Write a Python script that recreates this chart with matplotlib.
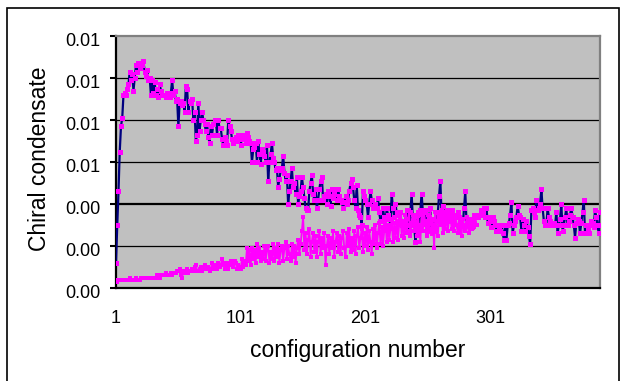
import numpy as np
import matplotlib
matplotlib.use("Agg")
import matplotlib.pyplot as plt
from matplotlib.patches import Rectangle
from matplotlib.transforms import ScaledTranslation

# ---- data (units of 1e-4), one value per configuration ----
s1_raw = [
    12, 30, 46, 65, 77, 81, 92, 93, 92, 95,          # 1-10
    97, 103, 99, 102, 94, 100, 106, 103, 107, 105,   # 11-20
    107, 106, 108, 103, 101, 104, 99, 100, 92, 99,   # 21-30
    93, 98, 92, 95, 91, 97, 94, 92, 92,              # 31-39
    92, 91, 93, 92, 91, 93, 99, 92, 94, 89,          # 40-49
    90, 77, 88, 89, 87, 88, 84, 96, 95, 84,          # 50-59
    89, 88, 90, 80, 84, 70, 73, 88, 75, 80,          # 60-69
    84, 80, 78, 75, 78, 72, 69, 77, 73,              # 70-78
    78, 80, 80, 73, 80, 76, 76, 71, 68, 72,          # 79-88
    70, 68, 80, 77, 75, 71, 69, 70, 72, 70,          # 89-98
    73, 71, 68, 72, 73, 71, 69, 74, 72, 70,          # 99-108
    69, 60, 66, 67, 69, 60, 70, 64, 59, 66,          # 109-118
    65, 63, 60, 68, 51, 60, 64, 69, 62, 60,          # 119-128
    56, 57, 48, 52, 56, 57, 63, 55, 51, 54,          # 129-138
    40, 46, 51, 57, 48, 50, 45, 53, 40, 44,          # 139-148
    46, 53, 48, 43, 38, 37, 37, 46, 50,              # 149-157
    54, 45, 42, 47, 38, 42, 47, 51, 53, 42,          # 158-167
    44, 45, 40, 46, 44, 39, 47, 43, 45, 47,          # 168-177
    42, 47, 44, 42, 41, 38, 41, 44, 40, 42,          # 178-187
    46, 50, 52, 48, 42, 38, 49, 37, 35, 34,          # 188-197
    30, 46, 44, 42, 40, 34, 40, 46, 42, 38,          # 198-207
    39, 40, 38, 43, 36, 32, 32, 38, 34, 30,          # 208-217
    38, 35, 33, 30, 45, 38, 34, 40, 36, 35,          # 218-227
    36, 36, 30, 30, 29, 32, 37,                      # 228-234
    30, 27, 36, 45, 32, 30, 22, 35, 26, 30,          # 235-244
    37, 45, 36, 32, 37, 27, 32, 34, 38, 26,          # 245-254
    33, 30, 27, 32, 36, 44, 51, 35, 39, 36,          # 255-264
    34, 37, 34, 36, 32, 37, 33, 35, 35, 34,          # 265-274
    36, 34, 32, 30, 30, 38, 46, 31, 32, 33,          # 275-284
    31, 29, 32, 35, 34, 35, 34, 35, 35, 37,          # 285-294
    36, 38, 34, 38, 31, 34, 32, 29, 34, 32,          # 295-304
    30, 27, 30, 29, 27, 30, 26, 23,                  # 305-312
    30, 23, 30, 31, 35, 41, 26, 30, 32, 34,          # 313-322
    39, 35, 34, 27, 33, 30, 27, 32, 29, 25,          # 323-332
    21, 37, 38, 36, 34, 42, 37, 38, 40, 47,          # 333-342
    38, 32, 30, 30, 38, 34, 32, 30, 31, 31,          # 343-352
    30, 36, 26, 30, 33, 40, 27, 30, 34, 38,          # 353-362
    30, 32, 35, 38, 34, 30, 24, 31, 33, 32,          # 363-372
    26, 31, 36, 42, 26, 30, 28, 26, 30, 32,          # 373-382
    31, 29, 37, 34, 30, 26, 36,                      # 383-389
]

s2_raw = [
    3, 3, 4, 4, 4, 4, 4, 4, 4, 4,                    # 1-10
    4, 5, 4, 4, 4, 4, 5, 4, 4, 4,                    # 11-20
    5, 5, 5, 5, 5, 5, 5, 5, 5, 5,                    # 21-30
    5, 5, 5, 6, 6, 5, 6, 6, 6, 6,                    # 31-40
    7, 6, 6, 6, 7, 6, 7, 7, 7, 8,                    # 41-50
    8, 9, 6, 5, 8, 7, 8, 9, 7, 8,                    # 51-60
    8, 9, 8, 10, 11, 8, 8, 9, 10, 8,                 # 61-70
    9, 11, 10, 9, 10, 8, 9, 12, 9, 11,               # 71-80
    10, 9, 12, 10, 11, 14, 12, 9, 10, 12,            # 81-90
    9, 11, 13, 11, 10, 13, 12, 9, 11, 10,            # 91-100
    9, 14, 10, 13, 11, 19, 13, 18, 11, 19,           # 101-110
    14, 18, 12, 21, 15, 19, 13, 17, 14, 20,          # 111-120
    13, 18, 20, 12, 17, 14, 21, 13, 19, 15,          # 121-130
    21, 12, 18, 20, 13, 19, 22, 14, 20, 16,          # 131-140
    13, 21, 15, 20, 12, 19, 23, 16, 21, 27,          # 141-150
    34, 18, 26, 16, 23, 28, 15, 22, 26, 17,          # 151-160
    25, 15, 22, 27, 16, 24, 19, 26, 11, 20,          # 161-170
    25, 16, 24, 19, 27, 15, 22, 26, 17, 25,          # 171-180
    16, 24, 27, 19, 15, 26, 20, 28, 17, 24,          # 181-190
    18, 27, 16, 25, 29, 19, 24, 28, 17, 26,          # 191-200
    20, 29, 18, 27, 22, 16, 28, 21, 30, 19,          # 201-210
    26, 31, 21, 29, 20, 27, 32, 22, 30, 23,          # 211-220
    28, 33, 22, 31, 24, 32, 23, 30, 34, 25,          # 221-230
    32, 24, 35, 26, 33, 37, 25, 31, 35, 27,          # 231-240
    34, 25, 36, 28, 22, 35, 27, 37, 30, 25,          # 241-250
    35, 28, 37, 26, 33, 19, 36, 29, 25, 34,          # 251-260
    30, 37, 26, 34, 28, 36, 27, 33, 36, 28,          # 261-270
    34, 27, 35, 30, 26, 34, 28, 25, 33, 29,          # 271-280
    27, 34, 29, 26, 32, 28, 33, 29, 34, 30,          # 281-290
]

UNIT = 1e-4
series1 = np.array(s1_raw) * UNIT
series2 = np.array(s2_raw) * UNIT
config1 = np.arange(1, len(series1) + 1)
config2 = np.arange(1, len(series2) + 1)

x_ticks = [1, 101, 201, 301]
x_ticklabels = ["1", "101", "201", "301"]
y_ticks = [0.0, 0.002, 0.004, 0.006, 0.008, 0.010, 0.012]
y_ticklabels = ["0.00", "0.00", "0.00", "0.01", "0.01", "0.01", "0.01"]

plt.rcParams['font.family'] = ['Liberation Sans', 'DejaVu Sans']

W, H = 626, 381
fig = plt.figure(figsize=(W / 100, H / 100), dpi=100)
fig.patch.set_facecolor('white')

L, R, T, B = 116, 600, 36, 288
ax = fig.add_axes([L / W, 1 - B / H, (R - L) / W, (B - T) / H])
ax.set_facecolor('#C0C0C0')

for y in y_ticks[1:-1]:
    ax.axhline(y, color='black', lw=1.6 if abs(y - 0.004) < 1e-9 else 0.9, zorder=1)

ax.plot(config1, series1, color='#000080', lw=1.6, marker='s', ms=3.6,
        mfc='#FF00FF', mec='#FF00FF', mew=0, zorder=3)
ax.plot(config2, series2, color='#FF00FF', lw=1.3, marker='s', ms=3.4,
        mfc='#FF00FF', mec='#FF00FF', mew=0, zorder=4)

ax.set_xlim(1, len(series1))
ax.set_ylim(0, 0.012)

ax.set_xticks(x_ticks)
ax.set_xticklabels(x_ticklabels, fontsize=13)
ax.set_yticks(y_ticks)
ax.set_yticklabels(y_ticklabels, fontsize=13)
ax.tick_params(axis='x', length=0, pad=15.5)
ax.tick_params(axis='y', direction='out', length=4.5, width=1.5, pad=6.5)

off = ScaledTranslation(0, -3.5 / 100, fig.dpi_scale_trans)
for lab in ax.get_yticklabels():
    lab.set_transform(lab.get_transform() + off)

for side in ('left', 'bottom'):
    ax.spines[side].set_color('black')
    ax.spines[side].set_linewidth(1.6)
for side in ('top', 'right'):
    ax.spines[side].set_color('#808080')
    ax.spines[side].set_linewidth(1.6)

fig.text(358 / W, 1 - 350 / H, 'configuration number', ha='center', va='center', fontsize=16.5)
fig.text(40 / W, 1 - 159 / H, 'Chiral condensate', ha='center', va='center',
         rotation=90, fontsize=16.5)

frame = Rectangle((7 / W, -0.05), (619 - 7) / W, (1 - 8 / H) + 0.05,
                  transform=fig.transFigure, fill=False, ec='black', lw=1.2)
fig.patches.append(frame)

fig.savefig('out.png', dpi=100, facecolor='white')
